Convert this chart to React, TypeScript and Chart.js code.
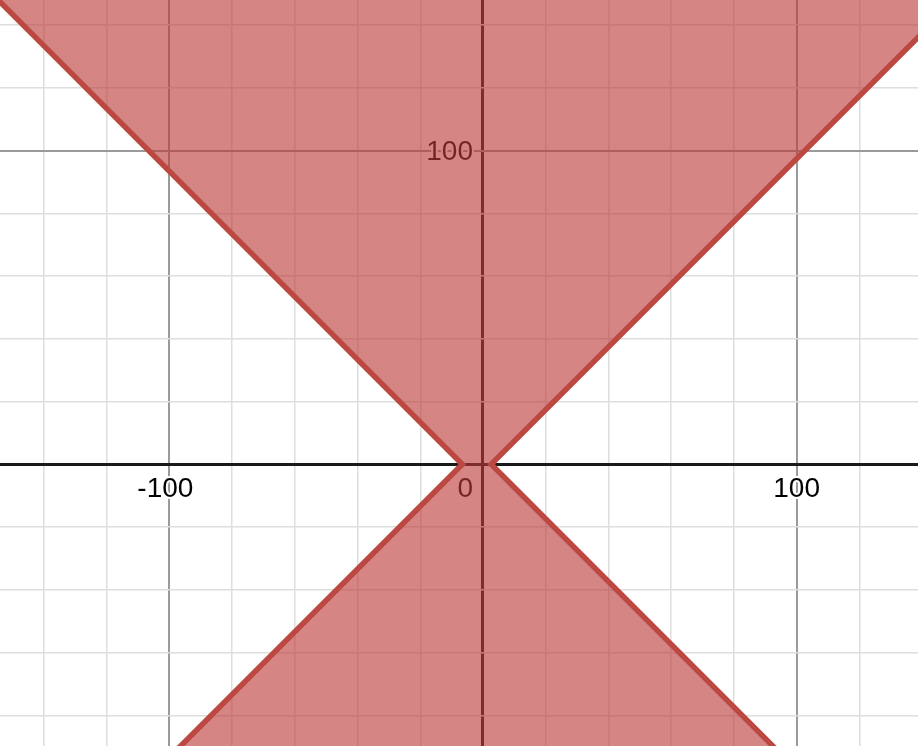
import React, { useEffect, useRef } from "react";
import { Chart, registerables } from "chart.js";

Chart.register(...registerables);

// Visible window of the graph (axis units)
const xRange = [-154, 138.7];
const yRange = [-89.8, 148.0];

// Boundary of the shaded region (two bent lines meeting the x-axis)
const leftBoundaryX = [-170, -6.6, -110];
const leftBoundaryY = [163.4, 0, -103.4];
const rightBoundaryX = [165, 2.6, 105];
const rightBoundaryY = [162.4, 0, -102.4];

// Tick labels
const xTickLabels = [-100, 100];
const yTickLabels = [100];
const originLabel = "0";

const minorStep = 20;
const majorStep = 100;

const lineColor = "rgb(188,72,66)";
const fillColor = "rgba(188,60,56,0.62)";

function gridColor(v: number) {
  if (Math.abs(v) < 1e-9) return "#1a1a1a";
  const rm = Math.abs(v / majorStep - Math.round(v / majorStep));
  if (rm < 1e-9) return "#9a9a9a";
  const rn = Math.abs(v / minorStep - Math.round(v / minorStep));
  if (rn < 1e-9) return "#dedede";
  return "rgba(0,0,0,0)";
}
function gridWidth(v: number) {
  if (Math.abs(v) < 1e-9) return 3;
  const rm = Math.abs(v / majorStep - Math.round(v / majorStep));
  if (rm < 1e-9) return 2;
  return 1.5;
}

const pts = (xs: number[], ys: number[]) => xs.map((x, i) => ({ x, y: ys[i] }));

export default function App() {
  const ref = useRef<HTMLCanvasElement | null>(null);
  useEffect(() => {
    document.body.style.margin = "0";
    const canvas = ref.current!;
    const leftPts = pts(leftBoundaryX, leftBoundaryY);
    const rightPts = pts(rightBoundaryX, rightBoundaryY);
    const polygon = [...leftPts, ...rightPts.slice().reverse()];

    const labelPlugin = {
      id: "axisLabels",
      beforeDatasetsDraw(chart: any) {
        const { ctx, scales } = chart;
        const xs = scales.x;
        const ys = scales.y;
        const x0 = xs.getPixelForValue(0);
        const y0 = ys.getPixelForValue(0);
        ctx.save();
        ctx.font = '28px "Liberation Sans", Arial, sans-serif';
        ctx.lineJoin = "round";
        ctx.strokeStyle = "#ffffff";
        ctx.lineWidth = 4;
        ctx.fillStyle = "#000000";
        const draw = (t: string, x: number, y: number) => {
          ctx.strokeText(t, x, y);
          ctx.fillText(t, x, y);
        };
        ctx.textAlign = "center";
        ctx.textBaseline = "middle";
        xTickLabels.forEach((v) => {
          draw(String(v), xs.getPixelForValue(v) - (v < 0 ? 4 : 0), y0 + 25);
        });
        ctx.textAlign = "right";
        yTickLabels.forEach((v) => {
          draw(String(v), x0 - 10, ys.getPixelForValue(v) + 2);
        });
        draw(originLabel, x0 - 10, y0 + 25);
        ctx.restore();
      },
    };

    const chart = new Chart(canvas, {
      type: "scatter",
      data: {
        datasets: [
          {
            data: leftPts,
            showLine: true,
            borderColor: lineColor,
            borderWidth: 5.5,
            pointRadius: 0,
            fill: false,
          },
          {
            data: rightPts,
            showLine: true,
            borderColor: lineColor,
            borderWidth: 5.5,
            pointRadius: 0,
            fill: false,
          },
          {
            data: polygon,
            showLine: true,
            borderWidth: 0,
            borderColor: "rgba(0,0,0,0)",
            backgroundColor: fillColor,
            pointRadius: 0,
            fill: "shape",
          },
        ],
      } as any,
      options: {
        responsive: false,
        devicePixelRatio: 1,
        animation: false,
        layout: { padding: 0 },
        plugins: { legend: { display: false }, tooltip: { enabled: false } },
        scales: {
          x: {
            type: "linear",
            min: xRange[0],
            max: xRange[1],
            ticks: { display: false, stepSize: minorStep },
            grid: {
              drawTicks: false,
              tickLength: 0,
              color: (c: any) => gridColor(c.tick ? c.tick.value : 1),
              lineWidth: (c: any) => gridWidth(c.tick ? c.tick.value : 1),
            },
            border: { display: false },
          },
          y: {
            type: "linear",
            min: yRange[0],
            max: yRange[1],
            ticks: { display: false, stepSize: minorStep },
            grid: {
              drawTicks: false,
              tickLength: 0,
              color: (c: any) => gridColor(c.tick ? c.tick.value : 1),
              lineWidth: (c: any) => gridWidth(c.tick ? c.tick.value : 1),
            },
            border: { display: false },
          },
        },
      } as any,
      plugins: [labelPlugin],
    });
    return () => chart.destroy();
  }, []);
  return (
    <div style={{ position: "absolute", left: 0, top: 0, width: 918, height: 746 }}>
      <canvas ref={ref} width={918} height={746} />
    </div>
  );
}
